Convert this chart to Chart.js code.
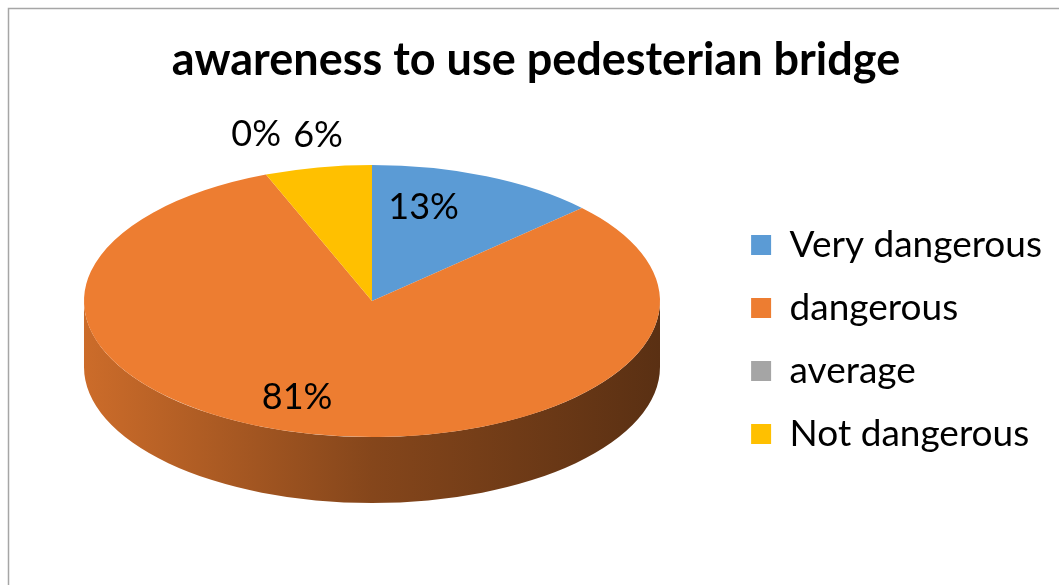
<!DOCTYPE html>
<html>
<head>
<meta charset="utf-8">
<script src="https://cdn.jsdelivr.net/npm/chart.js@4.4.1/dist/chart.umd.min.js"></script>
<style>
  html, body { margin: 0; padding: 0; background: #fff; overflow: hidden; }
  #wrap { width: 1059px; height: 585px; }
</style>
</head>
<body>
<div id="wrap"><canvas id="awareness"></canvas></div>
<script>
const categories = ['Very dangerous', 'dangerous', 'average', 'Not dangerous'];
const shares = [13, 81, 0, 6];
const colors = ['#5B9BD5', '#ED7D31', '#A5A5A5', '#FFC000'];
// how far out each percentage sits (fraction of the radius), plus a small nudge in px
const labelRadius = [0.6, 0.73, 1.3, 1.24];
const labelNudge = [[-17, -19], [-29, 0], [22, -2], [13, 0]];

const FONT = 'Lato, "Open Sans", sans-serif';
// top face of the disc and its thickness, in px
const disc = { cx: 372, cy: 301, rx: 288, ry: 136, depth: 66 };

function shade(hex, f) {
    const n = parseInt(hex.slice(1), 16);
    const r = Math.round(((n >> 16) & 255) * f);
    const g = Math.round(((n >> 8) & 255) * f);
    const b = Math.round((n & 255) * f);
    return `rgb(${r},${g},${b})`;
}

// squashes the round pie into a tilted disc and gives it a wall
const tilt = {
    id: 'tilt',
    beforeDraw(chart) {
        const c = chart.ctx;
        c.save();
        c.strokeStyle = '#A6A6A6';
        c.lineWidth = 1.5;
        c.beginPath();
        c.moveTo(8.5, chart.height);
        c.lineTo(8.5, 8.5);
        c.lineTo(chart.width, 8.5);
        c.stroke();
        c.restore();
    },
    beforeDatasetsDraw(chart) {
        const c = chart.ctx;
        const arcs = chart.getDatasetMeta(0).data;
        const { x, y, outerRadius: R } = arcs[0];
        const sx = disc.rx / R, sy = disc.ry / R;
        c.save();
        c.translate(disc.cx, disc.cy);
        c.scale(sx, sy);
        c.translate(-x, -y);
        const d = disc.depth / sy;
        // only the front half of the wall (0..PI) is visible
        arcs.forEach((arc, i) => {
            const lo = Math.max(arc.startAngle, 0);
            const hi = Math.min(arc.endAngle, Math.PI);
            if (hi <= lo) return;
            const g = c.createLinearGradient(x - R, 0, x + R, 0);
            g.addColorStop(0, shade(colors[i], 0.86));
            g.addColorStop(0.5, shade(colors[i], 0.56));
            g.addColorStop(1, shade(colors[i], 0.38));
            c.fillStyle = g;
            c.beginPath();
            c.arc(x, y, R, lo, hi);
            c.arc(x, y + d, R, hi, lo, true);
            c.closePath();
            c.fill();
        });
    },
    afterDatasetsDraw(chart) {
        const c = chart.ctx;
        c.restore();
        const arcs = chart.getDatasetMeta(0).data;
        c.save();
        c.font = `36px ${FONT}`;
        c.fillStyle = '#000';
        c.textAlign = 'center';
        c.textBaseline = 'middle';
        arcs.forEach((arc, i) => {
            const mid = (arc.startAngle + arc.endAngle) / 2;
            const f = labelRadius[i];
            const px = disc.cx + Math.cos(mid) * disc.rx * f + labelNudge[i][0];
            const py = disc.cy + Math.sin(mid) * disc.ry * f + labelNudge[i][1];
            c.fillText(shares[i] + '%', px, py);
        });
        c.restore();
    }
};

new Chart(document.getElementById('awareness'), {
    type: 'pie',
    data: {
        labels: categories,
        datasets: [{
            data: shares,
            backgroundColor: colors,
            borderWidth: 0,
            clip: false
        }]
    },
    options: {
        responsive: true,
        maintainAspectRatio: false,
        animation: false,
        layout: { padding: { left: 20, right: 7, top: 0, bottom: 0 } },
        plugins: {
            title: {
                display: true,
                text: 'awareness to use pedesterian bridge',
                color: '#000',
                font: { family: FONT, size: 45, weight: 'bold' },
                padding: { top: 33, bottom: 7 }
            },
            legend: {
                position: 'right',
                fullSize: false,
                labels: {
                    boxWidth: 20,
                    boxHeight: 20,
                    padding: 26,
                    color: '#000',
                    font: { family: FONT, size: 37 }
                }
            },
            tooltip: { enabled: false }
        }
    },
    plugins: [tilt]
});
</script>
</body>
</html>
